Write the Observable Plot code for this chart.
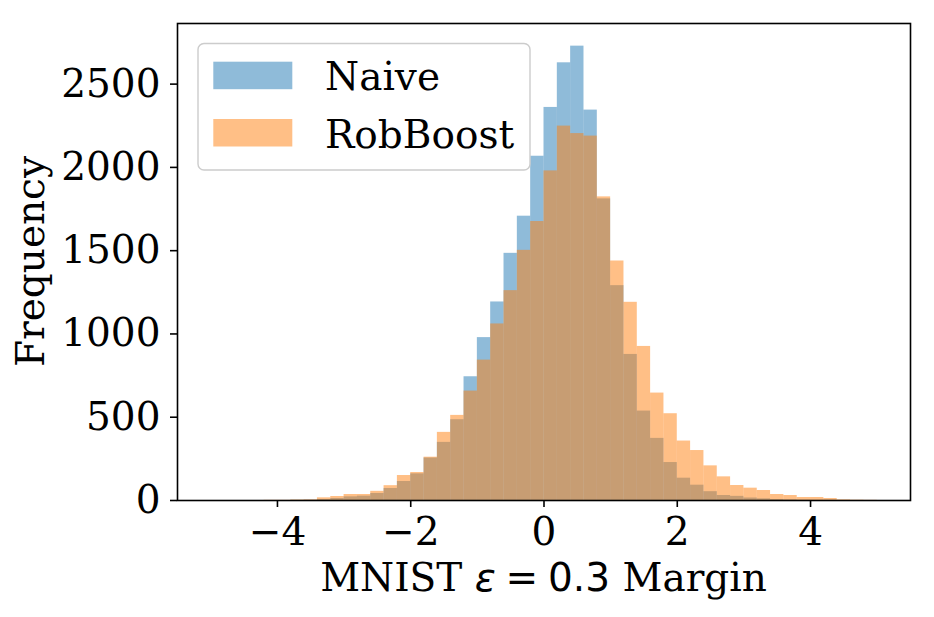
<!DOCTYPE html>
<html>
<head>
<meta charset="utf-8">
<script src="https://cdn.jsdelivr.net/npm/d3@7"></script>
<script src="https://cdn.jsdelivr.net/npm/@observablehq/plot@0.6"></script>
<style>
  html, body { margin: 0; padding: 0; background: white; }
</style>
</head>
<body>
<div id="chart"></div>
<script>
// Bin left edges (width 0.2)
const binStart = [-5.0,-4.8,-4.6,-4.4,-4.2,-4.0,-3.8,-3.6,-3.4,-3.2,
                  -3.0,-2.8,-2.6,-2.4,-2.2,-2.0,-1.8,-1.6,-1.4,-1.2,
                  -1.0,-0.8,-0.6,-0.4,-0.2, 0.0, 0.2, 0.4, 0.6, 0.8,
                   1.0, 1.2, 1.4, 1.6, 1.8, 2.0, 2.2, 2.4, 2.6, 2.8,
                   3.0, 3.2, 3.4, 3.6, 3.8, 4.0, 4.2, 4.4, 4.6, 4.8];
const binWidth = 0.2;
const naive = [0,0,0,0,0,0,1,2,6,12,
               22,26,42,72,114,160,255,349,485,743,
               978,1192,1484,1707,2067,2360,2628,2728,2344,1811,
               1290,877,537,373,228,134,92,53,30,25,
               15,10,6,4,2,1,1,0,0,0];
const robboost = [0,0,0,0,1,1,3,4,16,24,
                  36,36,55,89,150,168,260,409,511,657,
                  843,1060,1260,1502,1675,1979,2248,2203,2188,1823,
                  1438,1190,925,645,521,357,300,208,142,90,
                  74,60,36,30,18,18,12,4,2,1];
const seriesNames = ["Naive", "RobBoost"];
const seriesColors = ["#1f77b4", "#ff7f0e"];
const xTicks = [-4, -2, 0, 2, 4];
const yTicks = [0, 500, 1000, 1500, 2000, 2500];

const table = binStart.map((s, i) => ({x1: s, x2: s + binWidth, naive: naive[i], rob: robboost[i]}));

const W = 934, H = 617;
const mL = 177, mR = 24, mT = 23, mB = 117;
const FONT = "DejaVu Serif";

const chart = Plot.plot({
  width: W, height: H,
  marginLeft: mL, marginRight: mR, marginTop: mT, marginBottom: mB,
  x: {domain: [-5.5, 5.5]},
  y: {domain: [0, 2864]},
  style: {fontFamily: FONT, fontSize: "39px", background: "white", color: "black", overflow: "visible"},
  marks: [
    Plot.rect(table, {x1: "x1", x2: "x2", y1: 0, y2: "naive", fill: seriesColors[0], fillOpacity: 0.5, inset: 0}),
    Plot.rect(table, {x1: "x1", x2: "x2", y1: 0, y2: "rob", fill: seriesColors[1], fillOpacity: 0.5, inset: 0}),
    Plot.frame({stroke: "black", strokeWidth: 1.6}),
    Plot.axisX({ticks: xTicks, tickSize: 7, tickPadding: 10, label: null, tickFormat: d3.format("d"), strokeWidth: 1.6, fontSize: 39}),
    Plot.axisY({ticks: yTicks, tickSize: 7, tickPadding: 10, label: null, tickFormat: d3.format("d"), strokeWidth: 1.6, fontSize: 39})
  ]
});

document.getElementById("chart").appendChild(chart);

const svg = d3.select(chart);

// X label with math-style epsilon
const xl = svg.append("text")
  .attr("x", mL + (W - mL - mR) / 2)
  .attr("y", 591)
  .attr("text-anchor", "middle")
  .attr("font-family", FONT)
  .attr("font-size", 39)
  .attr("fill", "black");
xl.append("tspan").text("MNIST ");
xl.append("tspan").attr("font-family", "DejaVu Sans").attr("font-style", "italic").text("ε");
xl.append("tspan").attr("font-family", "DejaVu Sans").text("\u2005=\u20050.3");
xl.append("tspan").text(" Margin");

// Y label
svg.append("text")
  .attr("transform", `translate(44, ${mT + (H - mT - mB) / 2}) rotate(-90)`)
  .attr("text-anchor", "middle")
  .attr("font-family", FONT)
  .attr("font-size", 39)
  .attr("fill", "black")
  .text("Frequency");

// Legend
const lg = svg.append("g").attr("text-anchor", "start");
lg.append("rect")
  .attr("x", 198).attr("y", 43.5).attr("width", 332).attr("height", 126.5)
  .attr("rx", 6).attr("ry", 6)
  .attr("fill", "white").attr("fill-opacity", 0.8)
  .attr("stroke", "#cccccc").attr("stroke-width", 1.4);
seriesNames.forEach((name, i) => {
  const y0 = 61.7 + i * 57.3;
  lg.append("rect")
    .attr("x", 213.3).attr("y", y0).attr("width", 79).attr("height", 27.5)
    .attr("fill", seriesColors[i]).attr("fill-opacity", 0.5);
  lg.append("text")
    .attr("x", 325).attr("y", y0 + 28.5)
    .attr("text-anchor", "start")
    .attr("font-family", FONT).attr("font-size", 39).attr("fill", "black")
    .text(name);
});
</script>
</body>
</html>
